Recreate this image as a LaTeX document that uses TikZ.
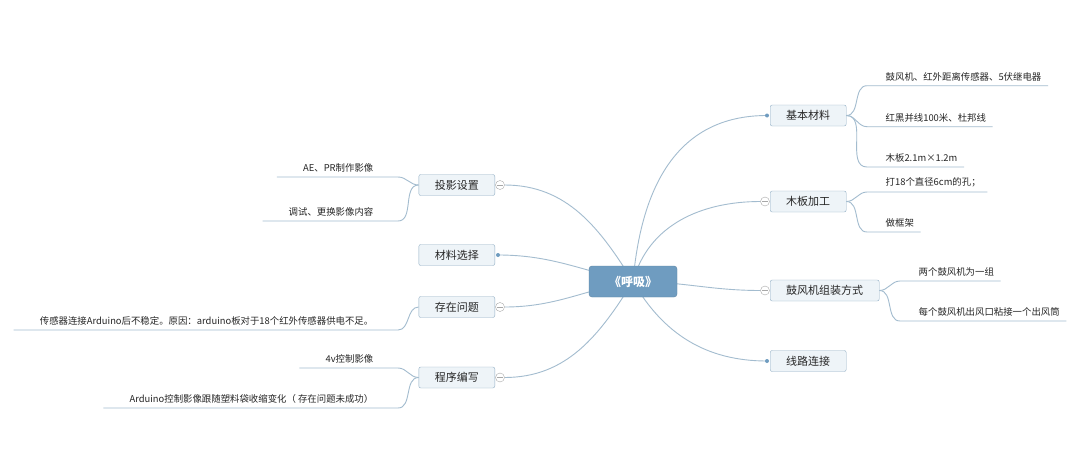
\documentclass[tikz,border=0pt]{standalone}
\usepackage{fontspec}
\setmainfont{Noto Sans CJK SC}
\usetikzlibrary{positioning,backgrounds}
\definecolor{lineblue}{HTML}{A3BCCF}
\definecolor{boxedge}{HTML}{93AFC5}
\definecolor{boxfill}{HTML}{EEF4F8}
\definecolor{rootfill}{HTML}{6F9CC0}
\definecolor{foldgray}{HTML}{A8A8A8}
\tikzset{
  root/.style={draw=rootfill!85!black, fill=rootfill, rounded corners=3pt,
    minimum width=88, minimum height=31, text=white, font=\fontsize{12}{12}\selectfont\bfseries},
  topic/.style={draw=boxedge, fill=boxfill, rounded corners=2pt, minimum height=21,
    minimum width=76, inner xsep=16pt, text=black!85, font=\fontsize{11}{11}\selectfont},
  leafR/.style={anchor=south west, inner xsep=0pt, inner ysep=4.5pt, text=black!85,
    font=\fontsize{9.4}{9.4}\selectfont,
    execute at begin node=\hspace{18.5pt}, execute at end node=\hspace{6.5pt}},
  leafL/.style={leafR, anchor=south east,
    execute at begin node=\hspace{7.5pt}, execute at end node=\hspace{18pt}},
  branch/.style={draw=lineblue, line width=0.9pt},
  fold/.style={circle, draw=foldgray, fill=white, minimum size=9, inner sep=0pt, outer sep=0pt,
    path picture={\draw[foldgray] ([xshift=-2.6pt]path picture bounding box.center)
      -- ([xshift=2.6pt]path picture bounding box.center);}},
  dot/.style={circle, fill=rootfill, minimum size=4, inner sep=0pt, outer sep=0pt}
}
\begin{document}
\begin{tikzpicture}[x=1pt,y=-1pt]
  \useasboundingbox (0,0) rectangle (1080,458);
  \node[root] (hx) at (633,281.5) {《呼吸》};

  \node[topic, anchor=west] (jbcl) at (770,115.5) {基本材料};
  \node[topic, anchor=west] (mbjg) at (770,201.5) {木板加工};
  \node[topic, anchor=west] (gfj) at (770,290.5) {鼓风机组装方式};
  \node[topic, anchor=west] (xllj) at (770,361) {线路连接};
  \node[topic, anchor=east] (tysz) at (495,185) {投影设置};
  \node[topic, anchor=east] (clxz) at (495,255) {材料选择};
  \node[topic, anchor=east] (czwt) at (495,307) {存在问题};
  \node[topic, anchor=east] (cxbx) at (495,377.5) {程序编写};

  \node[dot, left=1pt of jbcl] (jbcld) {};
  \node[fold, left=0.5pt of mbjg] (mbjgf) {};
  \node[fold, left=0.5pt of gfj] (gfjf) {};
  \node[dot, left=1pt of xllj] (xlljd) {};
  \node[fold, right=0.5pt of tysz] (tyszf) {};
  \node[dot, right=1pt of clxz] (clxzd) {};
  \node[fold, right=0.5pt of czwt] (czwtf) {};
  \node[fold, right=0.5pt of cxbx] (cxbxf) {};

  \node[leafR] (b1) at (867,85.7) {鼓风机、红外距离传感器、5伏继电器};
  \node[leafR] (b2) at (867,126.7) {红黑并线100米、杜邦线};
  \node[leafR] (b3) at (867,167) {木板2.1m×1.2m};
  \node[leafR] (m1) at (867,192) {打18个直径6cm的孔；};
  \node[leafR] (m2) at (867,232) {做框架};
  \node[leafR] (g1) at (900,281) {两个鼓风机为一组};
  \node[leafR] (g2) at (900,321) {每个鼓风机出风口粘接一个出风筒};
  \node[leafL] (t1) at (398,177) {AE、PR制作影像};
  \node[leafL] (t2) at (398,221) {调试、更换影像内容};
  \node[leafL] (w1) at (398,330) {传感器连接Arduino后不稳定。原因：arduino板对于18个红外传感器供电不足。};
  \node[leafL] (p1) at (398,368) {4v控制影像};
  \node[leafL] (p2) at (398,408) {Arduino控制影像跟随塑料袋收缩变化（ 存在问题未成功）};

  \begin{scope}[on background layer]
    \fill[white] (0,0) rectangle (1080,458);
    \draw[branch] (hx.center) to[out=85,in=180,looseness=1.1] (jbcld.center);
    \draw[branch] (hx.center) to[out=75,in=180] (mbjgf.west);
    \draw[branch] (hx.center) to[out=0,in=180] (gfjf.west);
    \draw[branch] (hx.center) to[out=-60,in=180] (xlljd.center);
    \draw[branch] (hx.center) to[out=122,in=0] (tyszf.east);
    \draw[branch] (hx.center) to[out=168,in=0] (clxzd.center);
    \draw[branch] (hx.center) to[out=190,in=0] (czwtf.east);
    \draw[branch] (hx.center) to[out=-122,in=0] (cxbxf.east);
  \end{scope}

  \foreach \t/\l in {jbcl/b1,jbcl/b2,jbcl/b3,mbjg/m1,mbjg/m2,gfj/g1,gfj/g2}
    \draw[branch] (\t.east) to[out=0,in=180] (\l.south west) -- (\l.south east);
  \foreach \t/\l in {tysz/t1,tysz/t2,czwt/w1,cxbx/p1,cxbx/p2}
    \draw[branch] (\t.west) to[out=180,in=0] (\l.south east) -- (\l.south west);
\end{tikzpicture}
\end{document}
